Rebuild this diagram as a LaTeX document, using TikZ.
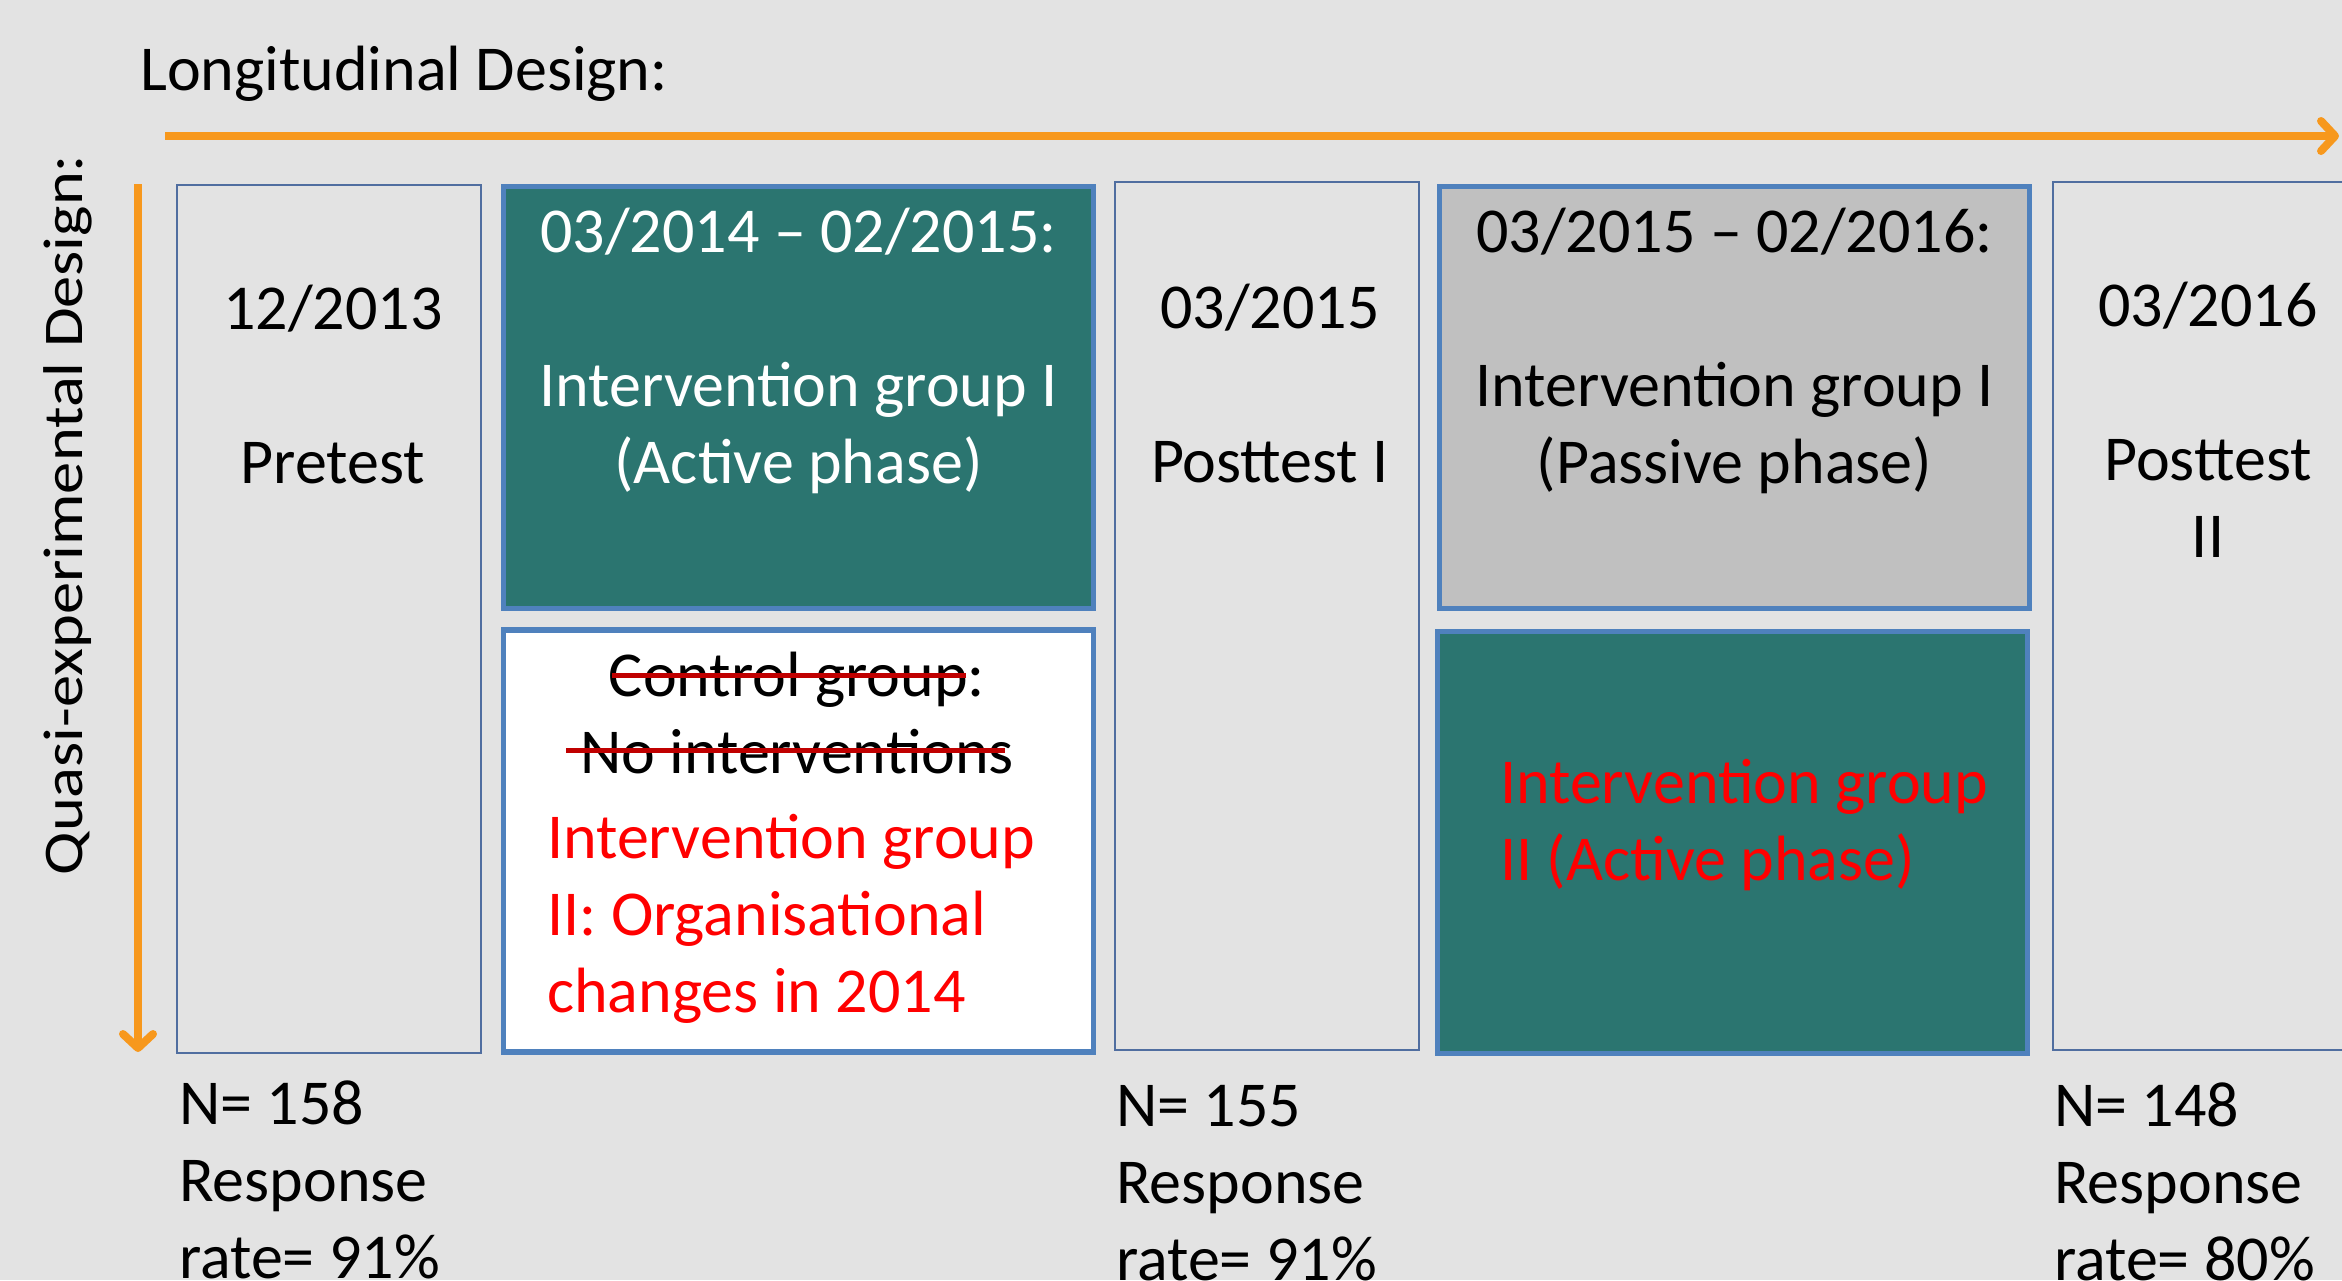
\documentclass[tikz,border=0pt]{standalone}
\usepackage{fontspec}
\setmainfont{Carlito}
\newfontfamily\widesans[FakeStretch=1.15]{Carlito}
\usetikzlibrary{arrows.meta,positioning}
\definecolor{slide}{RGB}{227,227,227}
\definecolor{arroworange}{RGB}{247,152,29}
\definecolor{boxblue}{RGB}{79,129,189}
\definecolor{thinblue}{RGB}{80,110,160}
\definecolor{phasegreen}{RGB}{43,117,112}
\definecolor{passivegray}{RGB}{192,192,192}
\definecolor{strikered}{RGB}{192,0,0}

\begin{document}
\begin{tikzpicture}[x=1pt,y=-1pt,
    every node/.style={font=\fontsize{64}{77}\selectfont, inner sep=0pt},
    thinbox/.style={draw=thinblue, line width=2pt, minimum width=304pt, minimum height=868pt},
    phasebox/.style={draw=boxblue, line width=5.5pt, minimum width=590pt, minimum height=422pt},
    timearrow/.style={draw=arroworange, line width=8pt, -{Straight Barb[length=14pt,width=30pt,round]}},
    strikeline/.style={draw=strikered, line width=5pt}]
    \fill[slide] (0,0) rectangle (2342,1280);
    \useasboundingbox (0,0) rectangle (2342,1280);
    % the two design axes
    \coordinate (t0) at (165,136); \coordinate (t1) at (2339,136);
    \coordinate (q0) at (138,184); \coordinate (q1) at (138,1052);
    \draw[timearrow] (t0) -- (t1);
    \draw[timearrow] (q0) -- (q1);
    \node[anchor=base west] (lon) at (140,90) {Longitudinal Design:};
    \node[rotate=90, anchor=base, font=\widesans\fontsize{56}{68}\selectfont] (qua) at (82,515) {Quasi-experimental Design:};
    % measurement points and phases (text anchored at its last line)
    \node[thinbox] (pre) at (329,619) {};
    \node[phasebox, fill=phasegreen] (act1) at (798.5,397.5) {};
    \node[phasebox, fill=white] (ctrl) at (798.5,841) {};
    \node[thinbox] (post1) at (1266.5,616) {};
    \node[phasebox, fill=passivegray] (pas1) at (1734.5,397.5) {};
    \node[phasebox, fill=phasegreen] (act2) at (1732.5,842.5) {};
    \node[thinbox] (post2) at (2204.5,616) {};
    \node[anchor=base, align=center] (preT) at (333,483) {12/2013\\[77pt]Pretest};
    \node[anchor=base, align=center, text=white] (act1T) at (798.5,483) {03/2014 – 02/2015:\\[77pt]Intervention group I\\(Active phase)};
    \node[anchor=base, align=center] (post1T) at (1270,482) {03/2015\\[77pt]Posttest I};
    \node[anchor=base, align=center] (pas1T) at (1734.5,483) {03/2015 – 02/2016:\\[77pt]Intervention group I\\(Passive phase)};
    \node[anchor=base, align=center] (post2T) at (2208,557) {03/2016\\[77pt]Posttest\\II};
    % former control group, crossed out
    \node[anchor=base, align=center] (ctrlT) at (797,773) {Control group:\\No interventions};
    \draw[strikeline] (612,675) -- (966,675);
    \draw[strikeline] (566,750) -- (1005,750);
    \node[anchor=base west, align=left, text=red] (orgT) at (547,1012) {Intervention group\\II: Organisational\\changes in 2014};
    \node[anchor=base west, align=left, text=red] (act2T) at (1500,880) {Intervention group\\II (Active phase)};
    % sample sizes
    \node[anchor=base west, align=left] (n1) at (179,1278) {N= 158\\Response\\rate= 91\%};
    \node[anchor=base west, align=left] (n2) at (1116,1280) {N= 155\\Response\\rate= 91\%};
    \node[anchor=base west, align=left] (n3) at (2054,1280) {N= 148\\Response\\rate= 80\%};
\end{tikzpicture}
\end{document}
